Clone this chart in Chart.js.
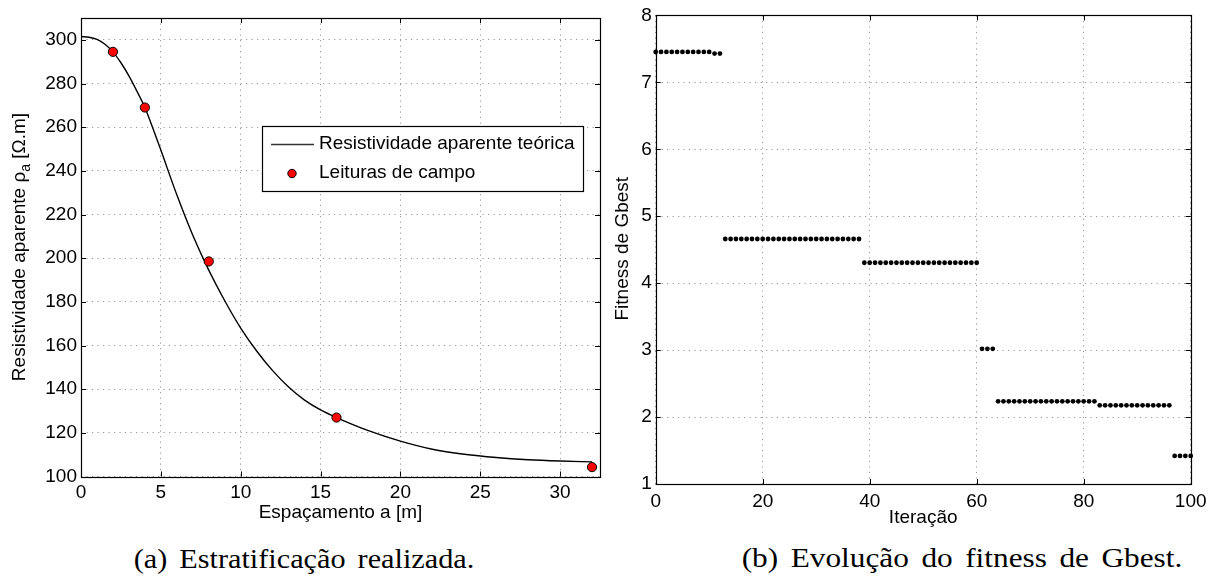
<!DOCTYPE html>
<html><head><meta charset="utf-8">
<script src="https://cdn.jsdelivr.net/npm/chart.js@4.4.1/dist/chart.umd.min.js"></script>
<style>
html,body{margin:0;padding:0;background:#fff;}
body{width:1218px;height:582px;position:relative;overflow:hidden;}
#wa{position:absolute;left:0;top:0;width:608px;height:530px;}
#wb{position:absolute;left:608px;top:0;width:610px;height:530px;}
.cap{position:absolute;font-family:"Liberation Serif",serif;font-size:27px;line-height:27px;word-spacing:4px;color:#000;white-space:nowrap;}
</style></head>
<body>
<div id="wa"><canvas id="ca"></canvas></div>
<div id="wb"><canvas id="cb"></canvas></div>
<div class="cap" style="left:304px;top:546px;transform:translateX(-50%) scaleX(1.12);">(a) Estratificação realizada.</div>
<div class="cap" style="left:962px;top:545px;transform:translateX(-50%) scaleX(1.16);">(b) Evolução do fitness de Gbest.</div>
<script>
// ---- data (a) ----
const curveSpacing = [0,0.5,1,1.5,2,2.5,3,3.5,4,4.5,5,6,7,8,9,10,11,12,13,14,15,16,18,20,22,24,26,28,30,32];
const curveResist  = [301.5,301.2,300.2,298,294.5,289.5,283.5,276.5,269,259.5,249.5,229,210.5,194.5,180.5,168,157.5,148.5,141,135,130.5,127,121,116.2,112.5,110.2,108.7,107.7,107.1,106.7];
const fieldSpacing = [2,4,8,16,32];
const fieldResist  = [294.5,269,198.5,127,104.3];
const xTicksA = [0,5,10,15,20,25,30];
const yTicksA = [100,120,140,160,180,200,220,240,260,280,300];
const labelCurve = 'Resistividade aparente teórica';
const labelField = 'Leituras de campo';
// ---- data (b) ----
const iterations = [0,1,2,3,4,5,6,7,8,9,10,11,12,13,14,15,16,17,18,19,20,21,22,23,24,25,26,27,28,29,30,31,32,33,34,35,36,37,38,39,40,41,42,43,44,45,46,47,48,49,50,51,52,53,54,55,56,57,58,59,60,61,62,63,64,65,66,67,68,69,70,71,72,73,74,75,76,77,78,79,80,81,82,83,84,85,86,87,88,89,90,91,92,93,94,95,96,97,98,99,100];
const gbestFitness = [
 7.455,7.455,7.455,7.455,7.455,7.455,7.455,7.455,7.455,7.455,7.455,7.43,7.43,
 4.66,4.66,4.66,4.66,4.66,4.66,4.66,4.66,4.66,4.66,4.66,4.66,4.66,4.66,4.66,4.66,4.66,4.66,4.66,4.66,4.66,4.66,4.66,4.66,4.66,4.66,
 4.305,4.305,4.305,4.305,4.305,4.305,4.305,4.305,4.305,4.305,4.305,4.305,4.305,4.305,4.305,4.305,4.305,4.305,4.305,4.305,4.305,4.305,
 3.02,3.02,3.02,
 2.235,2.235,2.235,2.235,2.235,2.235,2.235,2.235,2.235,2.235,2.235,2.235,2.235,2.235,2.235,2.235,2.235,2.235,2.235,
 2.175,2.175,2.175,2.175,2.175,2.175,2.175,2.175,2.175,2.175,2.175,2.175,2.175,2.175,
 1.42,1.42,1.42,1.42];
const xTicksB = [0,20,40,60,80,100];
const yTicksB = [1,2,3,4,5,6,7,8];

const FONT = "'Liberation Sans', Arial, sans-serif";
Chart.defaults.font.family = FONT;
Chart.defaults.font.size = 19;
Chart.defaults.color = '#000';

const frame = {
  id: 'frame',
  afterDatasetsDraw(chart) {
    const ctx = chart.ctx, a = chart.chartArea;
    const xs = chart.scales.x, ys = chart.scales.y, L = 5;
    ctx.save();
    ctx.strokeStyle = '#000'; ctx.lineWidth = 1;
    ctx.beginPath();
    xs.ticks.forEach(t => { const px = Math.round(xs.getPixelForValue(t.value)) + 0.5;
      ctx.moveTo(px, a.bottom); ctx.lineTo(px, a.bottom - L);
      ctx.moveTo(px, a.top); ctx.lineTo(px, a.top + L); });
    ys.ticks.forEach(t => { const py = Math.round(ys.getPixelForValue(t.value)) + 0.5;
      ctx.moveTo(a.left, py); ctx.lineTo(a.left + L, py);
      ctx.moveTo(a.right, py); ctx.lineTo(a.right - L, py); });
    ctx.stroke();
    ctx.lineWidth = 1.2;
    ctx.strokeRect(Math.round(a.left)+0.5, Math.round(a.top)+0.5, Math.round(a.right-a.left), Math.round(a.bottom-a.top));
    ctx.restore();
  }
};

const yTitle = {
  id: 'yTitle',
  afterDraw(chart, args, o) {
    const ctx = chart.ctx;
    ctx.save();
    ctx.translate(o.x, o.y); ctx.rotate(-Math.PI/2);
    ctx.fillStyle = '#000'; ctx.textBaseline = 'middle'; ctx.textAlign = 'left';
    const big = '19px ' + FONT, small = '14px ' + FONT;
    let w = 0;
    o.parts.forEach(p => { ctx.font = p.sub ? small : big; w += ctx.measureText(p.t).width; });
    let x = -w/2;
    o.parts.forEach(p => { ctx.font = p.sub ? small : big; ctx.fillText(p.t, x, p.sub ? 6 : 0); x += ctx.measureText(p.t).width; });
    ctx.restore();
  }
};

const boxLegend = {
  id: 'boxLegend',
  afterDraw(chart, args, o) {
    if (!o.show) return;
    const ctx = chart.ctx, b = o.box;
    ctx.save();
    ctx.fillStyle = '#fff'; ctx.fillRect(b.x, b.y, b.w, b.h);
    ctx.strokeStyle = '#000'; ctx.lineWidth = 1.2; ctx.strokeRect(b.x+0.5, b.y+0.5, b.w, b.h);
    ctx.font = '19px ' + FONT; ctx.fillStyle = '#000'; ctx.textBaseline = 'middle'; ctx.textAlign = 'left';
    const ds = chart.data.datasets;
    ctx.strokeStyle = '#333'; ctx.lineWidth = 1.5;
    ctx.beginPath(); ctx.moveTo(b.x + 9, b.y + 18.5); ctx.lineTo(b.x + 52, b.y + 18.5); ctx.stroke();
    ctx.fillText(ds[0].label, b.x + 57, b.y + 18);
    ctx.beginPath(); ctx.arc(b.x + 30, b.y + 47.5, 4.2, 0, Math.PI*2);
    ctx.fillStyle = ds[1].backgroundColor; ctx.fill();
    ctx.strokeStyle = ds[1].borderColor; ctx.lineWidth = 1; ctx.stroke();
    ctx.fillStyle = '#000';
    ctx.fillText(ds[1].label, b.x + 57, b.y + 47);
    ctx.restore();
  }
};

const DASH = [1.2, 4.3];
const gridStyle = { color: '#9a9a9a', lineWidth: 1, drawTicks: false, tickLength: 0 };
const borderStyle = { display: false, dash: DASH };
function ticksFrom(arr) { return s => { s.ticks = arr.map(v => ({ value: v })); }; }

new Chart(document.getElementById('ca'), {
  type: 'scatter',
  data: { datasets: [
    { label: labelCurve, data: curveSpacing.map((x,i)=>({x, y: curveResist[i]})), showLine: true,
      borderColor: '#000', borderWidth: 1.4, pointRadius: 0, cubicInterpolationMode: 'monotone', order: 2 },
    { label: labelField, data: fieldSpacing.map((x,i)=>({x, y: fieldResist[i]})), showLine: false,
      backgroundColor: '#ff0000', borderColor: '#000', borderWidth: 1, pointRadius: 4.6, order: 1 }
  ]},
  options: {
    responsive: true, maintainAspectRatio: false, animation: false, devicePixelRatio: 1,
    layout: { padding: { top: 18, right: 8, left: 0, bottom: 0 } },
    plugins: { legend: { display: false }, tooltip: { enabled: false },
      yTitle: { x: 20, y: 247, parts: [{t:'Resistividade aparente ρ'},{t:'a',sub:true},{t:' [Ω.m]'}] },
      boxLegend: { show: true, box: { x: 262, y: 126, w: 321, h: 65 } } },
    scales: {
      x: { type: 'linear', min: 0, max: 32.5, afterBuildTicks: ticksFrom(xTicksA),
        afterFit: s => { s.height = 53.5; },
        grid: { ...gridStyle }, border: { ...borderStyle },
        ticks: { padding: 5, color: '#000', font: { size: 19 } },
        title: { display: true, text: 'Espaçamento a [m]', color: '#000', font: { size: 19 }, padding: { top: 0, bottom: 6 } } },
      y: { type: 'linear', min: 100, max: 310, afterBuildTicks: ticksFrom(yTicksA),
        afterFit: s => { s.width = 81; },
        grid: { ...gridStyle }, border: { ...borderStyle },
        ticks: { padding: 4, color: '#000', font: { size: 19 } } }
    }
  },
  plugins: [frame, yTitle, boxLegend]
});

new Chart(document.getElementById('cb'), {
  type: 'scatter',
  data: { datasets: [
    { label: 'Gbest', data: iterations.map((x,i)=>({x, y: gbestFitness[i]})), showLine: false,
      backgroundColor: '#000', borderColor: '#000', borderWidth: 0, pointRadius: 2.4, clip: false }
  ]},
  options: {
    responsive: true, maintainAspectRatio: false, animation: false, devicePixelRatio: 1,
    layout: { padding: { top: 13.3, right: 27.3, left: 0, bottom: 0 } },
    plugins: { legend: { display: false }, tooltip: { enabled: false },
      yTitle: { x: 15, y: 248.7, parts: [{t:'Fitness de Gbest'}] },
      boxLegend: { show: false } },
    scales: {
      x: { type: 'linear', min: 0, max: 100, afterBuildTicks: ticksFrom(xTicksB),
        afterFit: s => { s.height = 46; },
        grid: { ...gridStyle }, border: { ...borderStyle },
        ticks: { padding: 6, color: '#000', font: { size: 19 } },
        title: { display: true, text: 'Iteração', color: '#000', font: { size: 19 }, padding: { top: 0, bottom: 1 } } },
      y: { type: 'linear', min: 1, max: 8, afterBuildTicks: ticksFrom(yTicksB),
        afterFit: s => { s.width = 47.7; },
        grid: { ...gridStyle }, border: { ...borderStyle },
        ticks: { padding: 4, color: '#000', font: { size: 19 } } }
    }
  },
  plugins: [frame, yTitle, boxLegend]
});
</script>
</body></html>
